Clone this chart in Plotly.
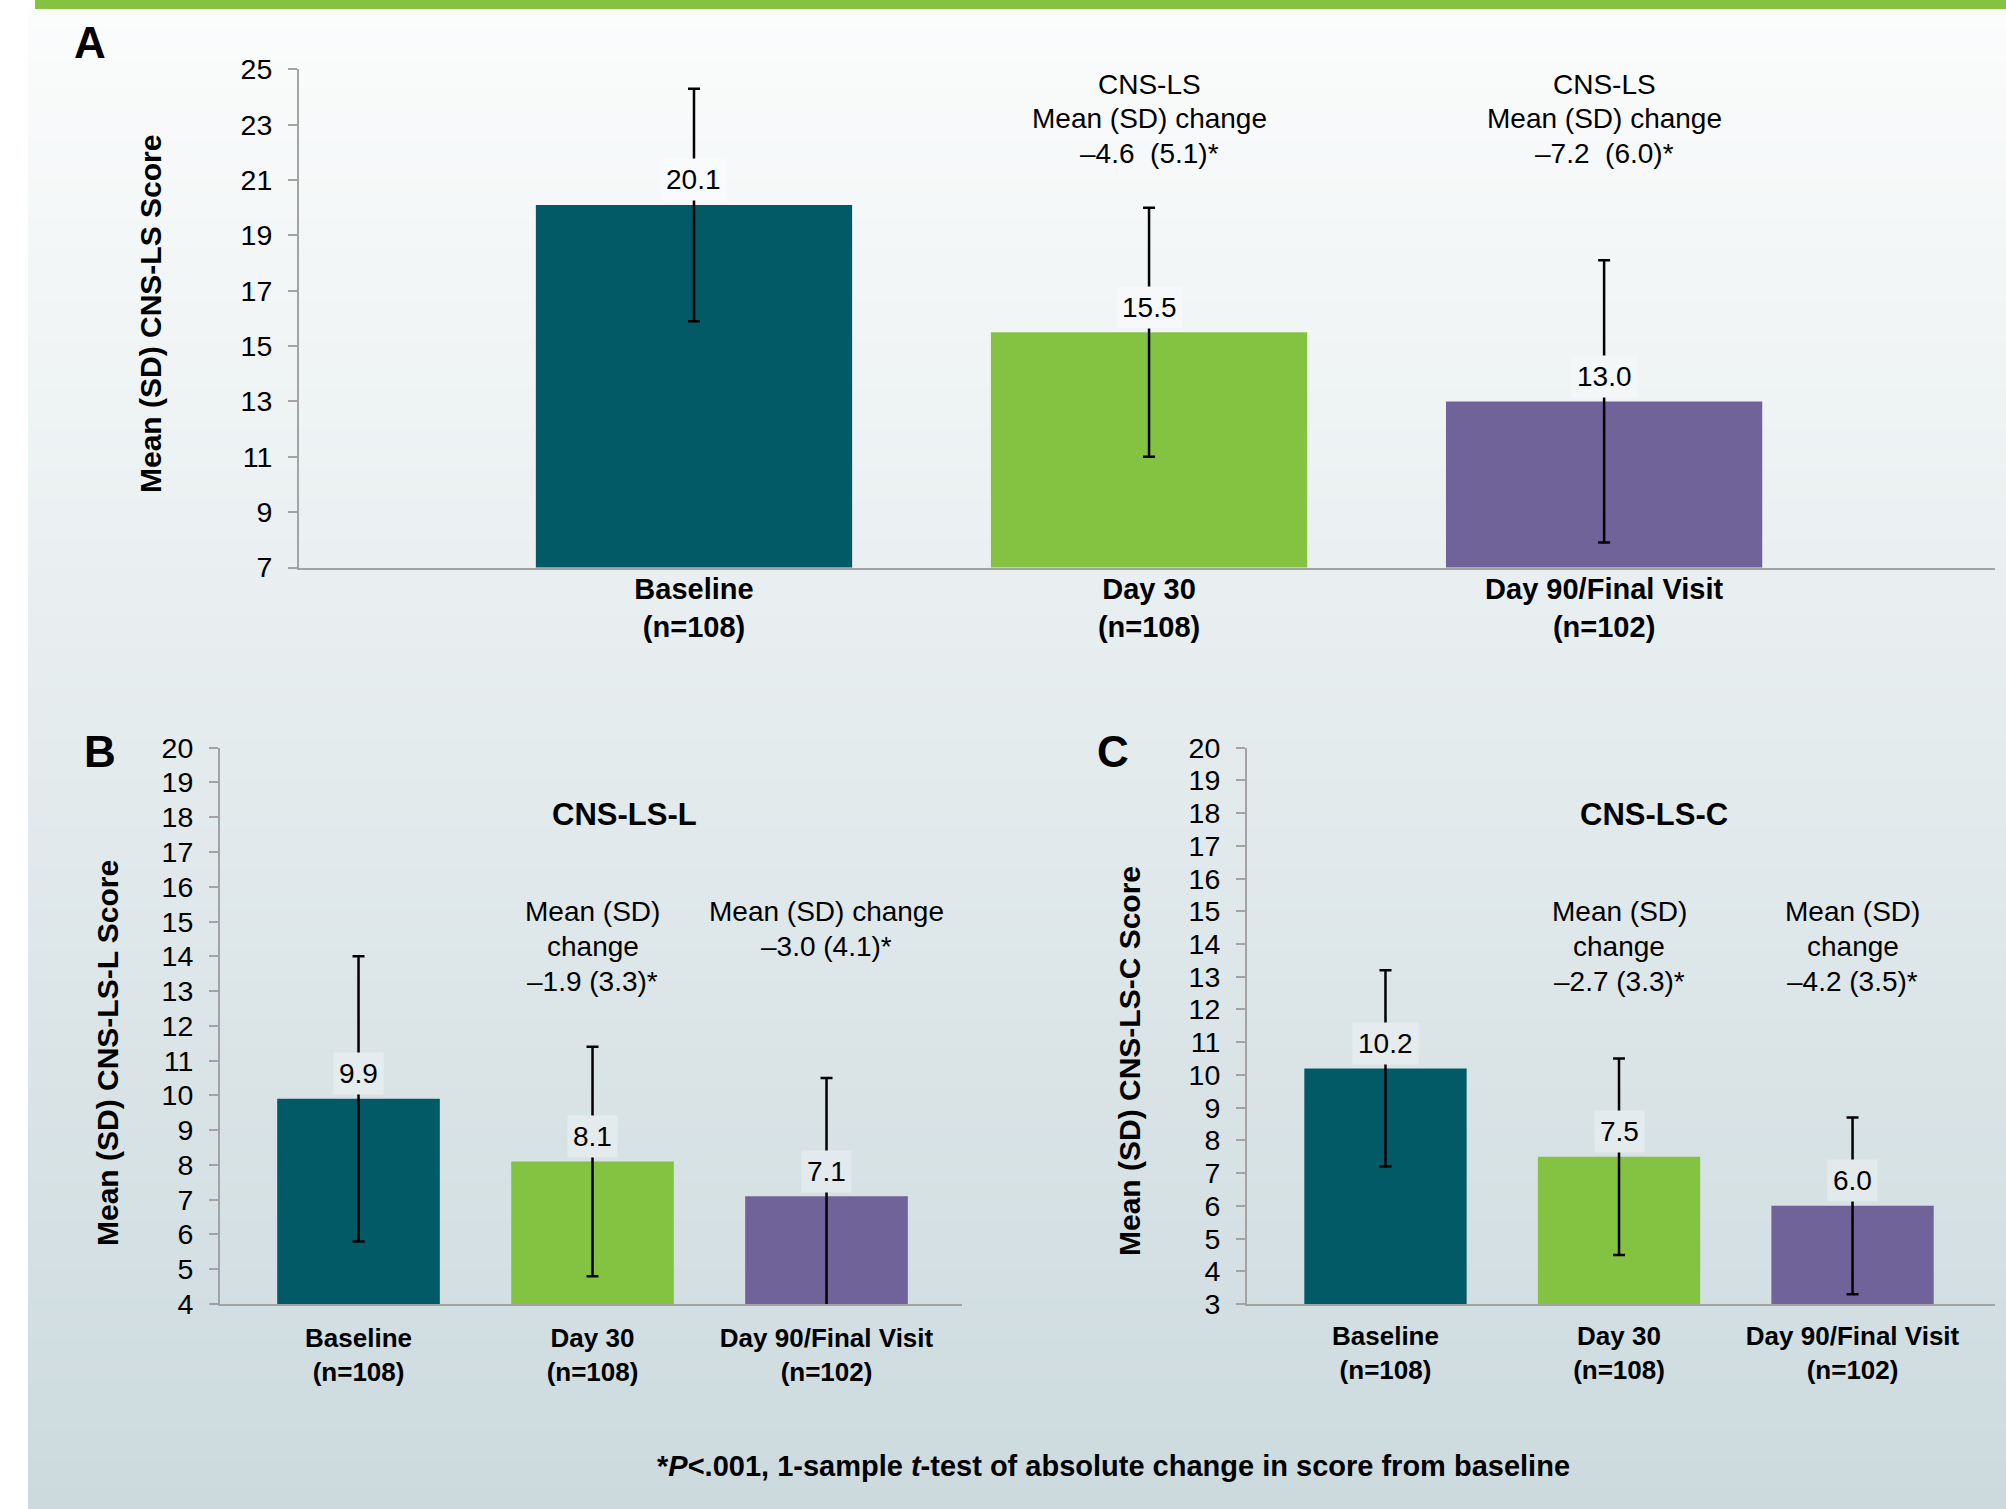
import plotly.graph_objects as go

# ---------------- data ----------------
categories = ["Baseline", "Day 30", "Day 90/Final Visit"]
n_labels = ["(n=108)", "(n=108)", "(n=102)"]
bar_colors = ["#015a65", "#84c342", "#706399"]

cnsls_mean = [20.1, 15.5, 13.0]
cnsls_sd = [4.2, 4.5, 5.1]
cnsls_l_mean = [9.9, 8.1, 7.1]
cnsls_l_sd = [4.1, 3.3, 3.4]
cnsls_c_mean = [10.2, 7.5, 6.0]
cnsls_c_sd = [3.0, 3.0, 2.7]

cnsls_change = ["\u20134.6 \u00a0(5.1)*", "\u20137.2 \u00a0(6.0)*"]
cnsls_l_change = ["\u20131.9 (3.3)*", "\u20133.0 (4.1)*"]
cnsls_c_change = ["\u20132.7 (3.3)*", "\u20134.2 (3.5)*"]

yticks_a = list(range(7, 26, 2))
yticks_b = list(range(4, 21))
yticks_c = list(range(3, 21))

# ---------------- layout helpers ----------------
W, H = 2006, 1509
FONT = "Liberation Sans, Arial, sans-serif"
AXIS_COLOR = "#a3a3a3"


def fx(p):
    return p / W


def fy(p):
    return 1 - p / H


TOP_C = (251, 252, 252)
BOT_C = (204, 218, 222)
BG_TOP, BG_BOT = 9, 1509


def bg_at(p, lighten=0.0):
    t = min(max((p - BG_TOP) / (BG_BOT - BG_TOP), 0), 1)
    c = [a + (b - a) * t for a, b in zip(TOP_C, BOT_C)]
    c = [v + (255 - v) * lighten for v in c]
    return "rgb(%d,%d,%d)" % tuple(round(v) for v in c)


fig = go.Figure()

panels = [
    dict(mean=cnsls_mean, sd=cnsls_sd, xa="x", ya="y"),
    dict(mean=cnsls_l_mean, sd=cnsls_l_sd, xa="x2", ya="y2"),
    dict(mean=cnsls_c_mean, sd=cnsls_c_sd, xa="x3", ya="y3"),
]

for p in panels:
    fig.add_trace(go.Bar(
        x=categories, y=p["mean"], xaxis=p["xa"], yaxis=p["ya"],
        marker=dict(color=bar_colors, line=dict(width=0)),
        width=0.695,
        error_y=dict(type="data", array=p["sd"], visible=True,
                     color="black", thickness=2.5, width=6),
        showlegend=False, hoverinfo="skip",
    ))

# axes geometry (pixels)
geo = {
    "": dict(x0=299, x1=1995, y0=69.3, y1=567.5, xr=[-0.868, 2.859], yr=[7, 25],
             yt=yticks_a, xfs=29, so=-5),
    "2": dict(x0=220, x1=962, y0=747.7, y1=1304, xr=[-0.592, 2.579], yr=[4, 20],
              yt=yticks_b, xfs=26, so=10),
    "3": dict(x0=1247, x1=1995, y0=747.7, y1=1304, xr=[-0.593, 2.610], yr=[3, 20],
              yt=yticks_c, xfs=26, so=8),
}

ticktext = ["%s<br>%s" % (c, n) for c, n in zip(categories, n_labels)]

for k, g in geo.items():
    fig.layout["xaxis" + k] = dict(
        domain=[fx(g["x0"]), fx(g["x1"])], range=g["xr"], anchor="y" + k,
        type="category", tickvals=categories, ticktext=ticktext,
        showline=True, linecolor=AXIS_COLOR, linewidth=2, ticks="",
        showgrid=False, zeroline=False, fixedrange=True, automargin=False,
        tickfont=dict(family=FONT, size=g["xfs"], color="black", weight="bold"),
        ticklabelstandoff=g["so"],
    )
    fig.layout["yaxis" + k] = dict(
        domain=[fy(g["y1"]), fy(g["y0"])], range=g["yr"], anchor="x" + k,
        tickvals=g["yt"], showline=True, linecolor=AXIS_COLOR, linewidth=2,
        ticks="outside", ticklen=9, tickcolor=AXIS_COLOR, tickwidth=2,
        showgrid=False, zeroline=False, fixedrange=True, automargin=False,
        tickfont=dict(family=FONT, size=28.5, color="black"),
        ticklabelstandoff=10,
    )

annotations = []

# data value labels with box covering error bar
for p, k in zip(panels, ["", "2", "3"]):
    g = geo[k]
    for c, v in zip(categories, p["mean"]):
        ypx = g["y0"] + (g["yr"][1] - v) / (g["yr"][1] - g["yr"][0]) * (g["y1"] - g["y0"]) - 25
        annotations.append(dict(
            x=c, y=v, xref=p["xa"], yref=p["ya"], text="%.1f" % v,
            showarrow=False, yanchor="middle", yshift=25,
            font=dict(family=FONT, size=28, color="black"),
            bgcolor=bg_at(ypx, 0.3), borderpad=5,
        ))

# change annotations, one line each
LINE = 34.5
blocks = [
    ("x", categories[1], 84.4, ["CNS-LS", "Mean (SD) change", cnsls_change[0]]),
    ("x", categories[2], 84.4, ["CNS-LS", "Mean (SD) change", cnsls_change[1]]),
    ("x2", categories[1], 912, ["Mean (SD)", "change", cnsls_l_change[0]]),
    ("x2", categories[2], 912, ["Mean (SD) change", cnsls_l_change[1]]),
    ("x3", categories[1], 912, ["Mean (SD)", "change", cnsls_c_change[0]]),
    ("x3", categories[2], 912, ["Mean (SD)", "change", cnsls_c_change[1]]),
]
for xr, cat, y0, lines in blocks:
    for i, line in enumerate(lines):
        annotations.append(dict(
            x=cat, xref=xr, y=fy(y0 + i * LINE), yref="paper", text=line,
            showarrow=False, xanchor="center", yanchor="middle",
            font=dict(family=FONT, size=28, color="black")))

# panel titles
for t, xp in [("CNS-LS-L", 624), ("CNS-LS-C", 1654)]:
    annotations.append(dict(x=fx(xp), y=fy(814), xref="paper", yref="paper", text=t,
                            showarrow=False, xanchor="center", yanchor="middle",
                            font=dict(family=FONT, size=31, color="black", weight="bold")))

# panel letters
for t, xp, yp in [("A", 90, 42), ("B", 100, 752), ("C", 1113, 752)]:
    annotations.append(dict(x=fx(xp), y=fy(yp), xref="paper", yref="paper", text=t,
                            showarrow=False, xanchor="center", yanchor="middle",
                            font=dict(family=FONT, size=44, color="black", weight="bold")))

# y-axis titles
for t, xp, yp in [("Mean (SD) CNS-LS Score", 150, 314),
                  ("Mean (SD) CNS-LS-L Score", 107, 1053),
                  ("Mean (SD) CNS-LS-C Score", 1129, 1061)]:
    annotations.append(dict(x=fx(xp), y=fy(yp), xref="paper", yref="paper", text=t,
                            textangle=-90, showarrow=False, xanchor="center",
                            yanchor="middle",
                            font=dict(family=FONT, size=30, color="black", weight="bold")))

# footnote
annotations.append(dict(
    x=fx(1113), y=fy(1466), xref="paper", yref="paper",
    text="*<i>P</i>&lt;.001, 1-sample <i>t</i>-test of absolute change in score from baseline",
    showarrow=False, xanchor="center", yanchor="middle",
    font=dict(family=FONT, size=29, color="black", weight="bold")))

# background gradient + top green bar
shapes = []
N = 150
step = (BG_BOT - BG_TOP) / N
for i in range(N):
    y0 = BG_TOP + i * step
    y1 = y0 + step + 0.6
    shapes.append(dict(type="rect", xref="paper", yref="paper",
                       x0=fx(28), x1=1, y0=fy(min(y1, H)), y1=fy(y0),
                       fillcolor=bg_at(y0 + step / 2), line=dict(width=0), layer="below"))
shapes.append(dict(type="rect", xref="paper", yref="paper",
                   x0=fx(35), x1=1, y0=fy(9), y1=1,
                   fillcolor="#84c342", line=dict(width=0), layer="below"))

fig.update_layout(
    width=W, height=H,
    margin=dict(l=0, r=0, t=0, b=0, pad=0, autoexpand=False),
    paper_bgcolor="white", plot_bgcolor="rgba(0,0,0,0)",
    annotations=annotations, shapes=shapes, bargap=0.3,
    font=dict(family=FONT, color="black"),
)

post = (
    "var s=document.createElement('style');"
    "s.innerHTML='html,body{margin:0!important;padding:0!important;overflow:hidden;"
    "width:2006px;height:1509px;}';"
    "document.head.appendChild(s);"
    "var g=document.getElementById('{plot_id}');"
    "g.parentElement.style.cssText='position:absolute;left:0;top:0;margin:0;padding:0;';"
)

fig.write_html("out.html", config={"displayModeBar": False}, post_script=post)
